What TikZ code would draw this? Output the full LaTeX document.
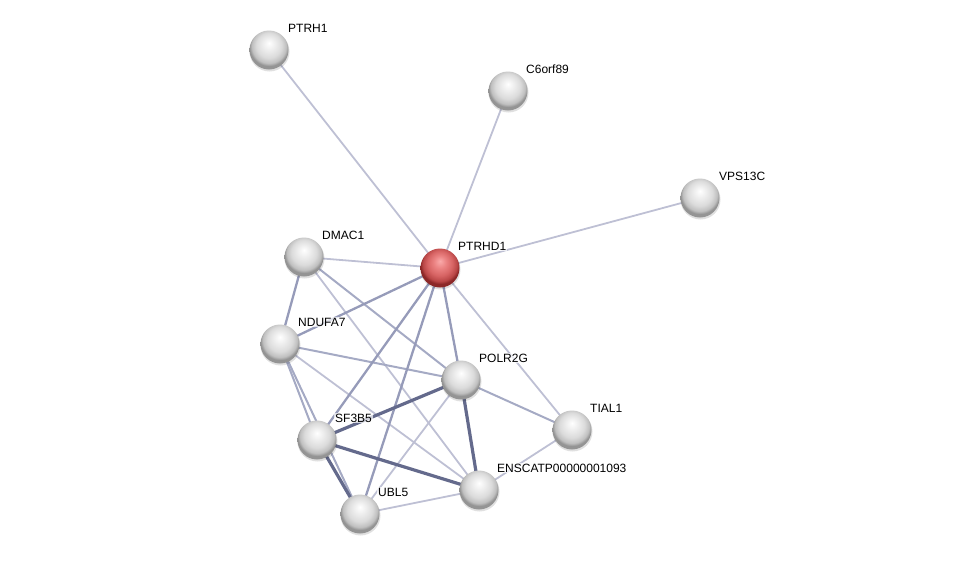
\documentclass[tikz,border=0pt]{standalone}
\usepackage{fontspec}
\setmainfont{Liberation Sans}
\pgfdeclareradialshading{sphere}{\pgfpoint{0bp}{9bp}}{%
  color(0bp)=(white); color(8bp)=(white!93!black); color(16bp)=(white!86!black);
  color(22bp)=(white!75!black); color(25bp)=(white!58!black); color(50bp)=(white!58!black)}
\pgfdeclareradialshading{rsphere}{\pgfpoint{0bp}{9bp}}{%
  color(0bp)=(rgb,255:red,250;green,170;blue,170); color(8bp)=(rgb,255:red,235;green,130;blue,130);
  color(16bp)=(rgb,255:red,215;green,100;blue,100); color(22bp)=(rgb,255:red,185;green,70;blue,70);
  color(25bp)=(rgb,255:red,140;green,40;blue,40); color(50bp)=(rgb,255:red,140;green,40;blue,40)}
\definecolor{ethin}{RGB}{190,192,212}
\definecolor{elight}{RGB}{165,170,196}
\definecolor{emed}{RGB}{150,155,185}
\definecolor{ethick}{RGB}{100,106,140}
\tikzset{
  prot/.style={circle, minimum size=39pt, inner sep=0pt, shading=sphere},
  protred/.style={circle, minimum size=39pt, inner sep=0pt, shading=rsphere},
  shadowc/.style={circle, minimum size=40pt, inner sep=0pt, fill=black, fill opacity=0.12},
  lbl/.style={font=\fontsize{12pt}{14pt}\selectfont, inner sep=1pt, fill=white, fill opacity=0.7, text opacity=1, anchor=west},
  ethinline/.style={draw=ethin, line width=1.8pt},
  elightline/.style={draw=elight, line width=2pt},
  emedline/.style={draw=emed, line width=2.3pt},
  ethickline/.style={draw=ethick, line width=3.2pt}
}
\begin{document}
\begin{tikzpicture}[x=1pt,y=-1pt]
\useasboundingbox (0,0) rectangle (975,560);
\coordinate (PTRH1) at (269,50);
\coordinate (C6orf89) at (508,91);
\coordinate (VPS13C) at (700,198);
\coordinate (DMAC1) at (304,257);
\coordinate (PTRHD1) at (440,268);
\coordinate (NDUFA7) at (280,344);
\coordinate (POLR2G) at (461,380);
\coordinate (TIAL1) at (572,430);
\coordinate (SF3B5) at (317,440);
\coordinate (ENSCATP) at (479,490);
\coordinate (UBL5) at (360,514);
% edges
\path[ethinline] (PTRH1) -- (PTRHD1);
\path[ethinline] (C6orf89) -- (PTRHD1);
\path[ethinline] (VPS13C) -- (PTRHD1);
\path[ethinline] (DMAC1) -- (PTRHD1);
\path[ethinline] (DMAC1) -- (ENSCATP);
\path[ethinline] (PTRHD1) -- (TIAL1);
\path[ethinline] (NDUFA7) -- (ENSCATP);
\path[ethinline] (POLR2G) -- (UBL5);
\path[ethinline] (TIAL1) -- (ENSCATP);
\path[ethinline] (UBL5) -- (ENSCATP);
\path[elightline] (DMAC1) -- (POLR2G);
\path[elightline] (NDUFA7) -- (POLR2G);
\path[elightline] (NDUFA7) -- (SF3B5);
\path[elightline] (NDUFA7) -- (UBL5);
\path[elightline] (POLR2G) -- (TIAL1);
\path[emedline] (DMAC1) -- (NDUFA7);
\path[emedline] (PTRHD1) -- (NDUFA7);
\path[emedline] (PTRHD1) -- (SF3B5);
\path[emedline] (PTRHD1) -- (UBL5);
\path[emedline] (PTRHD1) -- (POLR2G);
\path[ethickline] (POLR2G) -- (SF3B5);
\path[ethickline] (POLR2G) -- (ENSCATP);
\path[ethickline] (SF3B5) -- (ENSCATP);
\path[ethickline] (SF3B5) -- (UBL5);
% nodes
\foreach \n in {PTRH1,C6orf89,VPS13C,DMAC1,PTRHD1,NDUFA7,POLR2G,TIAL1,SF3B5,ENSCATP,UBL5}{
  \node[shadowc] at ([xshift=0.5pt,yshift=-1.5pt]\n) {};
}
\node[prot] (nPTRH1) at (PTRH1) {};
\node[prot] (nC6orf89) at (C6orf89) {};
\node[prot] (nVPS13C) at (VPS13C) {};
\node[prot] (nDMAC1) at (DMAC1) {};
\node[protred] (nPTRHD1) at (PTRHD1) {};
\node[prot] (nNDUFA7) at (NDUFA7) {};
\node[prot] (nPOLR2G) at (POLR2G) {};
\node[prot] (nTIAL1) at (TIAL1) {};
\node[prot] (nSF3B5) at (SF3B5) {};
\node[prot] (nENSCATP) at (ENSCATP) {};
\node[prot] (nUBL5) at (UBL5) {};
% labels
\node[lbl] (lPTRH1) at ([xshift=18pt,yshift=22pt]nPTRH1.center) {PTRH1};
\node[lbl] (lC6orf89) at ([xshift=17pt,yshift=22pt]nC6orf89.center) {C6orf89};
\node[lbl] (lVPS13C) at ([xshift=18pt,yshift=22pt]nVPS13C.center) {VPS13C};
\node[lbl] (lDMAC1) at ([xshift=17pt,yshift=22pt]nDMAC1.center) {DMAC1};
\node[lbl] (lPTRHD1) at ([xshift=17pt,yshift=22pt]nPTRHD1.center) {PTRHD1};
\node[lbl] (lNDUFA7) at ([xshift=17pt,yshift=22pt]nNDUFA7.center) {NDUFA7};
\node[lbl] (lPOLR2G) at ([xshift=17pt,yshift=22pt]nPOLR2G.center) {POLR2G};
\node[lbl] (lTIAL1) at ([xshift=17pt,yshift=22pt]nTIAL1.center) {TIAL1};
\node[lbl] (lSF3B5) at ([xshift=17pt,yshift=22pt]nSF3B5.center) {SF3B5};
\node[lbl] (lENSCATP) at ([xshift=17pt,yshift=22pt]nENSCATP.center) {ENSCATP00000001093};
\node[lbl] (lUBL5) at ([xshift=17pt,yshift=22pt]nUBL5.center) {UBL5};
\end{tikzpicture}
\end{document}
